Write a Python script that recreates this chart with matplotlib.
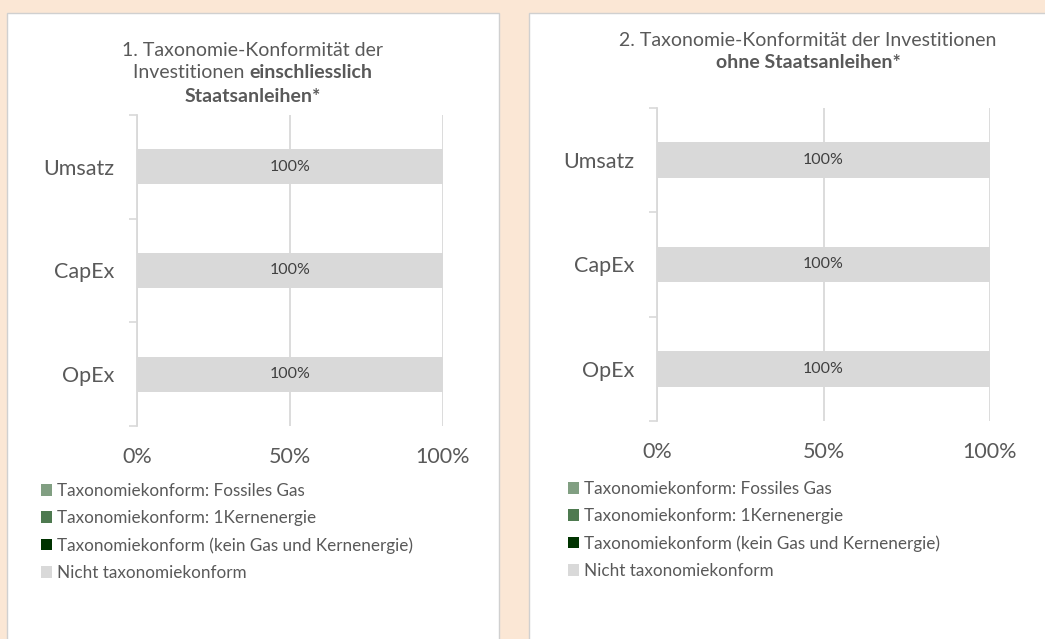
import matplotlib.pyplot as plt
from matplotlib.patches import Rectangle, Patch

plt.rcParams['font.family'] = ['Lato', 'DejaVu Sans']

W, H = 1045, 639

# Daten (Anteile in %)
kategorien = ['Umsatz', 'CapEx', 'OpEx']
serien = ['Taxonomiekonform: Fossiles Gas',
          'Taxonomiekonform: 1Kernenergie',
          'Taxonomiekonform (kein Gas und Kernenergie)',
          'Nicht taxonomiekonform']
farben = ['#819F82', '#4E7A50', '#003300', '#D9D9D9']

# Chart 1: einschliesslich Staatsanleihen
werte_1 = [
    [0, 0, 0],
    [0, 0, 0],
    [0, 0, 0],
    [100, 100, 100],
]
# Chart 2: ohne Staatsanleihen
werte_2 = [
    [0, 0, 0],
    [0, 0, 0],
    [0, 0, 0],
    [100, 100, 100],
]
x_ticks = [0, 50, 100]
x_ticklabels = ['0%', '50%', '100%']

grau = '#595959'
linie = '#D9D9D9'

fig = plt.figure(figsize=(W / 100, H / 100), dpi=100)
fig.patch.set_facecolor('#FBE7D5')


def px_rect(x0, y0, x1, y1):
    # Pixel (oben links) -> figure coords
    return [x0 / W, 1 - y1 / H, (x1 - x0) / W, (y1 - y0) / H]


# weisse Panels
for (x0, y0, x1, y1) in [(7, 13, 499, 645), (529, 13, 1050, 645)]:
    fig.patches.append(Rectangle((x0 / W, 1 - y1 / H), (x1 - x0) / W, (y1 - y0) / H,
                                 transform=fig.transFigure, facecolor='white',
                                 edgecolor='#D0D0D0', linewidth=1, zorder=-10))


def zeichne(ax, werte):
    y = list(range(len(kategorien)))
    links = [0] * len(kategorien)
    for name, vals, col in zip(serien, werte, farben):
        bars = ax.barh(y, vals, left=links, height=0.34, color=col, label=name, zorder=2)
        if name == 'Nicht taxonomiekonform':
            for b, v in zip(bars, vals):
                if v > 0:
                    ax.text(b.get_x() + b.get_width() / 2, b.get_y() + b.get_height() / 2,
                            f'{v:.0f}%', ha='center', va='center', fontsize=11.5,
                            color='#404040', zorder=3)
        links = [l + v for l, v in zip(links, vals)]
    ax.set_xlim(0, 100)
    ax.set_ylim(len(kategorien) - 0.5, -0.5)
    ax.set_xticks(x_ticks)
    ax.set_xticklabels(x_ticklabels, fontsize=15.5, color=grau)
    ax.tick_params(axis='x', length=0, pad=15)
    ax.set_yticks(y)
    ax.set_yticklabels(kategorien, fontsize=15.5, color=grau)
    ax.tick_params(axis='y', which='major', length=0, pad=16)
    ax.set_yticks([i - 0.5 for i in range(len(kategorien) + 1)], minor=True)
    ax.tick_params(axis='y', which='minor', length=6, width=1.2, color=linie)
    ax.grid(axis='x', color=linie, linewidth=1.3, zorder=1)
    for s in ['top', 'right', 'bottom']:
        ax.spines[s].set_visible(False)
    ax.spines['left'].set_color(linie)
    ax.spines['left'].set_linewidth(1.3)
    ax.set_facecolor('none')


ax1 = fig.add_axes(px_rect(137, 115, 443, 426))
zeichne(ax1, werte_1)
ax2 = fig.add_axes(px_rect(657, 108, 990, 421))
zeichne(ax2, werte_2)

renderer = fig.canvas.get_renderer()


def titelzeile(teile, cx, cy, size=14):
    # teile: Liste aus (text, fett?) - zentriert auf cx (Pixel)
    objs = []
    for t, fett in teile:
        objs.append(fig.text(0, 1 - cy / H, t, fontsize=size, color=grau,
                             fontweight='bold' if fett else 'normal', va='center', ha='left'))
    breiten = [o.get_window_extent(renderer).width for o in objs]
    x = cx - sum(breiten) / 2
    for o, b in zip(objs, breiten):
        o.set_x(x / W)
        x += b


titelzeile([('1. Taxonomie-Konformität der', False)], 253, 50)
titelzeile([('Investitionen ', False), ('einschliesslich', True)], 253, 73)
titelzeile([('Staatsanleihen*', True)], 253, 97)

titelzeile([('2. Taxonomie-Konformität der Investitionen', False)], 808, 40)
titelzeile([('ohne Staatsanleihen*', True)], 808, 63)

handles = [Patch(facecolor=c, edgecolor='none', label=s) for s, c in zip(serien, farben)]
for (lx, ly) in [(41, 483), (568, 481)]:
    fig.legend(handles=handles, loc='upper left', bbox_to_anchor=(lx / W, 1 - ly / H),
               frameon=False, fontsize=12.3, labelcolor=grau, handlelength=0.65,
               handleheight=0.65, handletextpad=0.3, labelspacing=0.65,
               borderpad=0, borderaxespad=0)

plt.savefig('out.png', dpi=100, facecolor=fig.get_facecolor())
